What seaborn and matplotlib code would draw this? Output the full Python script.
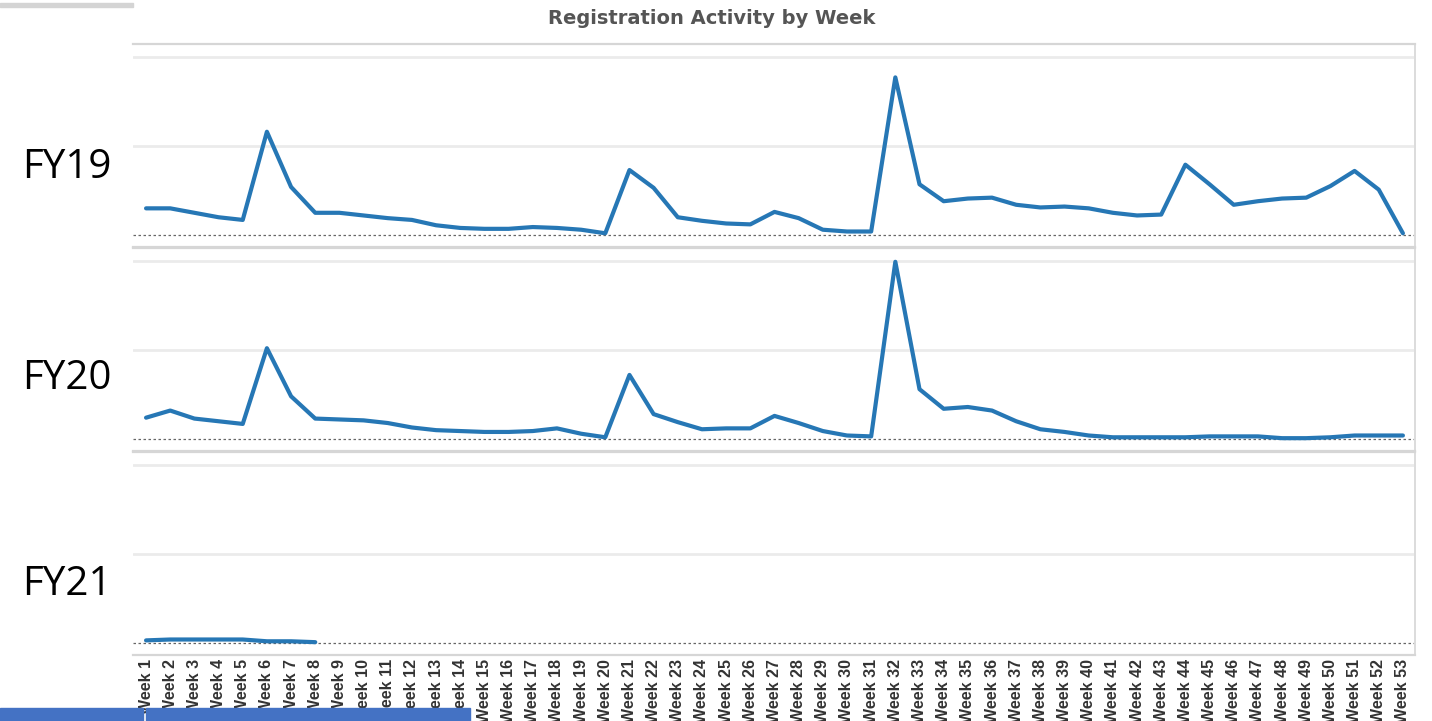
import numpy as np
import pandas as pd
import matplotlib.pyplot as plt
import seaborn as sns

weeks = ['Week %d' % i for i in range(1, 54)]

fy19 = [300, 300, 250, 200, 170, 1160, 540, 250, 250, 220, 190, 170, 110, 80, 70, 70,
        90, 80, 60, 20, 730, 530, 200, 160, 130, 120, 260, 190, 60, 40, 40, 1770,
        570, 380, 410, 420, 340, 310, 320, 300, 250, 220, 230, 790, 570, 340, 380,
        410, 420, 550, 720, 510, 20]
fy20 = [240, 320, 230, 200, 170, 1020, 480, 230, 220, 210, 180, 130, 100, 90, 80, 80,
        90, 120, 60, 20, 720, 280, 190, 110, 120, 120, 260, 180, 90, 40, 30, 1990,
        560, 340, 360, 320, 200, 110, 80, 40, 20, 20, 20, 20, 30, 30, 30, 10, 10,
        20, 40, 40, 40]
fy21 = [30, 40, 40, 40, 40, 20, 20, 10]

series = {'FY19': fy19, 'FY20': fy20, 'FY21': fy21}

sns.set_style('white')
plt.rcParams['font.family'] = ['DejaVu Sans']

W, H = 1432, 721
fig = plt.figure(figsize=(W / 100, H / 100), dpi=100)

line_color = '#2677b5'
left, right = 133, 1415
tops = [44, 248, 452]
pane_h = 203
label_y = [168, 379, 585]

axes = []
for i, (name, vals) in enumerate(series.items()):
    top = tops[i]
    ax = fig.add_axes([left / W, 1 - (top + pane_h) / H, (right - left) / W, pane_h / H])
    df = pd.DataFrame({'pos': np.arange(len(vals)), 'value': vals})
    for g in (1000, 2000):
        ax.axhline(g, color='#ebebeb', lw=2, zorder=0)
    ax.axhline(0, color='#666666', lw=0.9, ls=(0, (2, 2)), zorder=1)
    sns.lineplot(data=df, x='pos', y='value', ax=ax, color=line_color, linewidth=3,
                 solid_joinstyle='round', solid_capstyle='round', zorder=3)
    ax.set_xlim(-0.54, 52.5)
    ax.set_ylim(-134, 2145)
    ax.set_xlabel('')
    ax.set_ylabel('')
    ax.set_yticks([])
    ax.spines['left'].set_visible(False)
    ax.spines['top'].set_color('#d6d6d6')
    ax.spines['top'].set_linewidth(1.6)
    ax.spines['right'].set_color('#dcdcdc')
    ax.spines['right'].set_linewidth(1.4)
    ax.spines['bottom'].set_color('#d6d6d6')
    ax.spines['bottom'].set_linewidth(1.6)
    fig.text(22 / W, 1 - label_y[i] / H, name, fontsize=29, va='center', ha='left',
             family=['Open Sans', 'DejaVu Sans'], color='black')
    axes.append(ax)

for ax in axes[:2]:
    ax.set_xticks([])

ax = axes[-1]
ax.set_xticks(range(len(weeks)))
ax.set_xticklabels(weeks, rotation=90, fontsize=11.5, fontweight='bold', color='#333333',
                   family=['Liberation Sans', 'DejaVu Sans'])
ax.tick_params(axis='x', which='major', length=0, pad=3)
ax.set_xticks(np.arange(-0.5, 53, 1), minor=True)
ax.tick_params(axis='x', which='minor', length=6, color='#d0d0d0', width=1)

fig.text(712 / W, 1 - 19 / H, 'Registration Activity by Week', fontsize=14,
         fontweight='bold', color='#555555', ha='center', va='center')

# slide overlay shapes from the screenshot
fig.patches.append(plt.Rectangle((0, 1 - 7 / H), 133 / W, 4 / H, transform=fig.transFigure,
                                 color='#d4d4d4', zorder=10))
fig.patches.append(plt.Rectangle((0, 0), 143 / W, 13 / H, transform=fig.transFigure,
                                 color='#4472c4', zorder=10))
fig.patches.append(plt.Rectangle((146 / W, 0), 324 / W, 13 / H, transform=fig.transFigure,
                                 color='#4472c4', zorder=10))

plt.savefig('out.png', dpi=100)
